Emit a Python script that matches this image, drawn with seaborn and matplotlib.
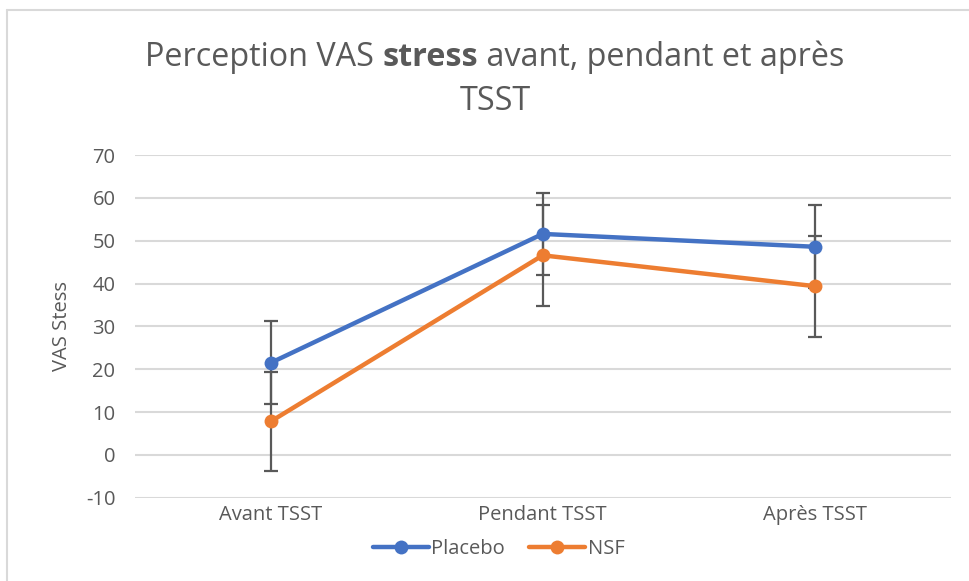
import pandas as pd
import numpy as np
import matplotlib.pyplot as plt
import seaborn as sns
from matplotlib.lines import Line2D

# %%--  Data
categories = ["Avant TSST", "Pendant TSST", "Après TSST"]
placebo_mean = [21.5, 51.6, 48.6]
placebo_err = [9.7, 9.6, 9.7]
nsf_mean = [7.8, 46.6, 39.4]
nsf_err = [11.6, 11.8, 11.8]
groups = ["Placebo", "NSF"]
# %%-

df = pd.DataFrame({
    "moment": categories * 2,
    "VAS": placebo_mean + nsf_mean,
    "err": placebo_err + nsf_err,
    "groupe": [groups[0]] * 3 + [groups[1]] * 3,
})

sns.set_theme(style="white")
plt.rcParams["font.family"] = ["Open Sans", "DejaVu Sans"]
plt.rcParams["axes.unicode_minus"] = False
GREY = "#595959"
palette = {"Placebo": "#4472C4", "NSF": "#ED7D31"}

fig = plt.figure(figsize=(9.7, 5.81), dpi=100)
ax = fig.add_axes([0.139, 0.1434, 0.841, 0.5896])

# error bars under the lines
for g in groups:
    sub = df[df["groupe"] == g]
    ax.errorbar(sub["moment"], sub["VAS"], yerr=sub["err"], fmt="none",
                ecolor=GREY, elinewidth=1.6, capsize=5, capthick=1.6, zorder=2)

sns.lineplot(data=df, x="moment", y="VAS", hue="groupe", palette=palette,
             marker="o", markersize=10, markeredgewidth=0, linewidth=3.2,
             sort=False, ax=ax, legend=False, zorder=3)

ax.set_xlim(-0.5, 2.5)
ax.set_ylim(-10, 70)
ax.set_yticks(np.arange(-10, 71, 10))
ax.yaxis.grid(True, color="#D9D9D9", linewidth=1.5)
ax.set_axisbelow(True)
for s in ax.spines.values():
    s.set_visible(False)
ax.tick_params(axis="both", length=0, labelsize=14.5, labelcolor=GREY)
ax.tick_params(axis="y", pad=14)
ax.tick_params(axis="x", pad=5)
ax.set_xlabel("")
ax.set_ylabel("VAS Stess", fontsize=14.5, color=GREY, labelpad=10)

# legend
handles = [Line2D([0], [0], color=palette[g], lw=3.2, marker="o", markersize=10,
                  markeredgewidth=0) for g in groups]
fig.legend(handles, groups, loc="center", bbox_to_anchor=(0.514, 0.055), ncol=2,
           frameon=False, fontsize=14.5, labelcolor=GREY, handlelength=2.8,
           handletextpad=0.1, columnspacing=1.2)

# title with bold word, centred
fig.canvas.draw()
r = fig.canvas.get_renderer()
parts = [("Perception VAS ", "normal"), ("stress", "bold"), (" avant, pendant et après", "normal")]
ty = 1 - 57 / 581
texts = []
for txt, w in parts:
    t = fig.text(0, ty, txt, fontsize=23.3, color=GREY, fontweight=w, va="center", ha="left")
    texts.append(t)
widths = [t.get_window_extent(r).width for t in texts]
x0 = 495 - sum(widths) / 2
for t, w in zip(texts, widths):
    t.set_x(x0 / 970)
    x0 += w
fig.text(495 / 970, 1 - 101 / 581, "TSST", fontsize=23.3, color=GREY, ha="center", va="center")

# chart frame
fig.add_artist(Line2D([7 / 970, 7 / 970], [0, 1 - 10 / 581], color="#D9D9D9", lw=1.5))
fig.add_artist(Line2D([7 / 970, 1], [1 - 10 / 581, 1 - 10 / 581], color="#D9D9D9", lw=1.5))

plt.savefig("out.png", dpi=100)
